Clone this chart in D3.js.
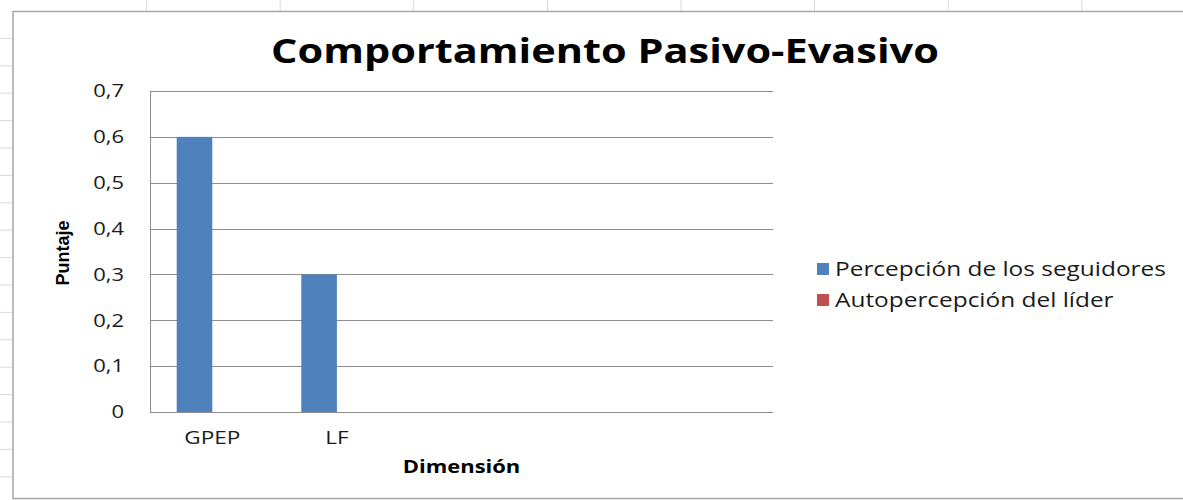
<!DOCTYPE html>
<html>
<head>
<meta charset="utf-8">
<script src="https://cdn.jsdelivr.net/npm/d3@7"></script>
<style>
  html, body { margin: 0; padding: 0; background: #ffffff; }
  svg { display: block; }
</style>
</head>
<body>
<svg id="chart" width="1183" height="500"></svg>
<script>
// Chart data
const categoryLabels = ["GPEP", "LF", "", "", ""];
const seguidores = [0.6, 0.3, null, null, null];
const lider = [null, null, null, null, null];
const seriesNames = ["Percepción de los seguidores", "Autopercepción del líder"];
const seriesColors = ["#4F81BD", "#C0504D"];
const yTicks = [0, 0.1, 0.2, 0.3, 0.4, 0.5, 0.6, 0.7];

const W = 1183, H = 500;
const svg = d3.select("#chart");

// Text in this chart is set slightly wide; widen glyphs by a fixed factor
const WIDEN = 1.22;
function widen(sel, k = WIDEN) {
  sel.each(function () {
    const len = this.getComputedTextLength();
    if (len > 0) {
      this.setAttribute("textLength", len * k);
      this.setAttribute("lengthAdjust", "spacingAndGlyphs");
    }
  });
  return sel;
}

// Worksheet cells behind the chart object
const sheet = svg.append("g").attr("class", "sheet");
const colEdges = d3.range(146.6, W, 133.6);
sheet.selectAll("line.col").data(colEdges).join("line")
  .attr("x1", d => d).attr("x2", d => d)
  .attr("y1", 0).attr("y2", 11)
  .attr("stroke", "#d9d9d9").attr("stroke-width", 1);
const rowEdges = d3.range(38.4, H, 27.4);
sheet.selectAll("line.row").data(rowEdges).join("line")
  .attr("x1", 0).attr("x2", 12)
  .attr("y1", d => d).attr("y2", d => d)
  .attr("stroke", "#d9d9d9").attr("stroke-width", 1);

// Chart object frame
svg.append("rect")
  .attr("x", 13).attr("y", 11.5)
  .attr("width", W).attr("height", 487)
  .attr("fill", "#ffffff")
  .attr("stroke", "#a6a6a6").attr("stroke-width", 1.5);

// Plot area
const plot = { left: 150, right: 773, top: 91, bottom: 412 };

const x = d3.scaleBand()
  .domain(d3.range(categoryLabels.length))
  .range([plot.left, plot.right])
  .paddingInner(0).paddingOuter(0);

const xs = d3.scaleBand()
  .domain([0, 1])
  .range([0, x.bandwidth()])
  .paddingInner(0).paddingOuter(0.75);

const y = d3.scaleLinear().domain([0, 0.7]).range([plot.bottom, plot.top]);

const locale = d3.formatLocale({ decimal: ",", thousands: ".", grouping: [3], currency: ["", "€"] });
const fmt = locale.format(".1~f");

// Horizontal gridlines
svg.append("g")
  .selectAll("line").data(yTicks.filter(t => t > 0)).join("line")
  .attr("x1", plot.left).attr("x2", plot.right)
  .attr("y1", d => Math.round(y(d)) + 0.5).attr("y2", d => Math.round(y(d)) + 0.5)
  .attr("stroke", "#8c8c8c").attr("stroke-width", 1);

// Bars
const series = [seguidores, lider];
series.forEach((vals, s) => {
  svg.append("g")
    .selectAll("rect")
    .data(vals.map((v, i) => ({ i, v })).filter(d => d.v != null && d.v > 0))
    .join("rect")
    .attr("x", d => x(d.i) + xs(s))
    .attr("width", xs.bandwidth())
    .attr("y", d => y(d.v))
    .attr("height", d => y(0) - y(d.v))
    .attr("fill", seriesColors[s]);
});

// Y axis
const yAxis = svg.append("g")
  .attr("transform", `translate(${plot.left},0)`)
  .call(d3.axisLeft(y).tickValues(yTicks).tickFormat(fmt).tickSize(0).tickPadding(26));
yAxis.select(".domain").attr("stroke", "#8c8c8c").attr("d", `M0.5,${plot.top}V${plot.bottom}`);
widen(yAxis.selectAll("text")
  .attr("font-family", "'Open Sans', sans-serif")
  .attr("font-size", 18)
  .attr("fill", "#1a1a1a"));

// X axis
const xAxis = svg.append("g")
  .attr("transform", `translate(0,${Math.round(plot.bottom) + 0.5})`)
  .call(d3.axisBottom(x).tickFormat(i => categoryLabels[i]).tickSize(0).tickPadding(18));
xAxis.select(".domain").attr("stroke", "#8c8c8c").attr("d", `M${plot.left},0H${plot.right}`);
widen(xAxis.selectAll("text")
  .attr("font-family", "'Open Sans', sans-serif")
  .attr("font-size", 18.5)
  .attr("fill", "#1a1a1a"));

// Title
widen(svg.append("text")
  .attr("x", 605).attr("y", 63)
  .attr("text-anchor", "middle")
  .attr("font-family", "'Open Sans', sans-serif")
  .attr("font-weight", 700)
  .attr("font-size", 34)
  .attr("fill", "#000000")
  .text("Comportamiento Pasivo-Evasivo"));

// Axis titles
svg.append("text")
  .attr("transform", `translate(69,253) rotate(-90)`)
  .attr("text-anchor", "middle")
  .attr("font-family", "'Liberation Sans Narrow', 'Arial Narrow', sans-serif")
  .attr("font-stretch", "condensed")
  .attr("font-weight", 700)
  .attr("font-size", 18)
  .attr("fill", "#000000")
  .text("Puntaje");

widen(svg.append("text")
  .attr("x", (plot.left + plot.right) / 2).attr("y", 473)
  .attr("text-anchor", "middle")
  .attr("font-family", "'Open Sans', sans-serif")
  .attr("font-weight", 700)
  .attr("font-size", 18)
  .attr("fill", "#000000")
  .text("Dimensión"));

// Legend
const legend = svg.append("g").attr("transform", "translate(817,269)");
const items = legend.selectAll("g").data(seriesNames).join("g")
  .attr("transform", (d, i) => `translate(0,${i * 31})`);
items.append("rect")
  .attr("x", 0).attr("y", -6).attr("width", 12).attr("height", 12)
  .attr("fill", (d, i) => seriesColors[i]);
widen(items.append("text")
  .attr("x", 18).attr("dy", "0.35em")
  .attr("font-family", "'Open Sans', sans-serif")
  .attr("font-size", 20)
  .attr("fill", "#1a1a1a")
  .text(d => d));
</script>
</body>
</html>
